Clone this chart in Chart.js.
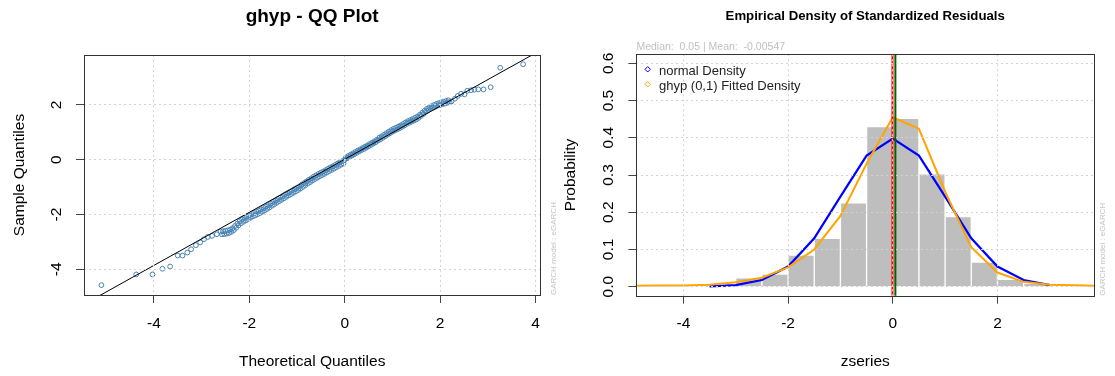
<!DOCTYPE html>
<html>
<head>
<meta charset="utf-8">
<title>ghyp QQ plot and empirical density</title>
<script src="https://cdn.jsdelivr.net/npm/chart.js@4.4.1/dist/chart.umd.min.js"></script>
<style>
  html, body { margin: 0; padding: 0; background: #fff; }
  #wrap { position: relative; width: 1115px; height: 376px; }
  #qq { position: absolute; left: 0; top: 0; }
  #dens { position: absolute; left: 557px; top: 0; }
</style>
</head>
<body>
<div id="wrap">
  <canvas id="qq" width="557" height="376"></canvas>
  <canvas id="dens" width="558" height="376"></canvas>
</div>
<script>
const FONT = "'Liberation Sans', Arial, sans-serif";

// ---- left panel: QQ plot ----
const qqTheo = [
  -5.10, -4.37, -4.03, -3.82, -3.66, -3.50, -3.40, -3.30, -3.22, -3.12, -3.03, -2.95, -2.87, -2.78, -2.68,
  -2.60, -2.55, -2.50, -2.45, -2.40, -2.35, -2.30, -2.25, -2.20, -2.15, -2.10, -2.05, -2.00,
  -1.95, -1.90, -1.85, -1.80, -1.75, -1.70, -1.65, -1.60, -1.55, -1.50, -1.45, -1.40, -1.35,
  -1.30, -1.25, -1.20, -1.15, -1.10, -1.05, -1.00, -0.95, -0.90, -0.85, -0.80, -0.75, -0.70,
  -0.65, -0.60, -0.55, -0.50, -0.45, -0.40, -0.35, -0.30, -0.25, -0.20, -0.15, -0.10, -0.05,
  0.00, 0.05, 0.10, 0.15, 0.20, 0.25, 0.30, 0.35, 0.40, 0.45, 0.50, 0.55, 0.60, 0.65, 0.70,
  0.75, 0.80, 0.85, 0.90, 0.95, 1.00, 1.05, 1.10, 1.15, 1.20, 1.25, 1.30, 1.35, 1.40, 1.45,
  1.50, 1.55, 1.60, 1.65, 1.70, 1.75, 1.80, 1.85, 1.90, 1.95, 2.00, 2.05, 2.10, 2.15, 2.20,
  2.24, 2.31, 2.37, 2.44, 2.51, 2.57, 2.65, 2.72, 2.80, 2.91, 3.06, 3.26, 3.74
];
const qqSample = [
  -4.58, -4.19, -4.19, -3.98, -3.90, -3.50, -3.50, -3.39, -3.27, -3.12, -3.02, -2.90, -2.82, -2.78, -2.72,
  -2.62, -2.61, -2.60, -2.58, -2.55, -2.50, -2.42, -2.33, -2.24, -2.18, -2.13, -2.08, -2.03,
  -1.98, -1.94, -1.90, -1.86, -1.81, -1.76, -1.71, -1.66, -1.60, -1.54, -1.49, -1.43, -1.38,
  -1.33, -1.27, -1.22, -1.17, -1.12, -1.07, -1.02, -0.97, -0.91, -0.85, -0.79, -0.73, -0.68,
  -0.62, -0.57, -0.52, -0.47, -0.43, -0.38, -0.33, -0.28, -0.24, -0.19, -0.14, -0.09, -0.05,
  0.00, 0.05, 0.10, 0.15, 0.20, 0.25, 0.30, 0.35, 0.39, 0.44, 0.49, 0.54, 0.59, 0.64, 0.70,
  0.75, 0.80, 0.86, 0.92, 0.97, 1.03, 1.07, 1.11, 1.15, 1.20, 1.25, 1.31, 1.35, 1.39, 1.43,
  1.47, 1.53, 1.60, 1.67, 1.75, 1.81, 1.86, 1.90, 1.94, 1.98, 2.00, 2.03, 2.05, 2.08, 2.10,
  2.13, 2.23, 2.33, 2.41, 2.39, 2.52, 2.54, 2.56, 2.57, 2.57, 2.65, 3.36, 3.49
];
const qqBandTheo = [
  -2.575, -2.525, -2.475, -2.425, -2.375, -2.325, -2.275, -2.225, -2.175, -2.125, -2.075, -2.025, -1.975,
  -1.925, -1.875, -1.825, -1.775, -1.725, -1.675, -1.625, -1.575, -1.525, -1.475, -1.425, -1.375, -1.325,
  -1.275, -1.225, -1.175, -1.125, -1.075, -1.025, -0.975, -0.925, -0.875, -0.825, -0.775, -0.725, -0.675,
  -0.625, -0.575, -0.525, -0.475, -0.425, -0.375, -0.325, -0.275, -0.225, -0.175, -0.125, -0.075, -0.025,
  0.025, 0.075, 0.125, 0.175, 0.225, 0.275, 0.325, 0.375, 0.425, 0.475, 0.525, 0.575, 0.625, 0.675,
  0.725, 0.775, 0.825, 0.875, 0.925, 0.975, 1.025, 1.075, 1.125, 1.175, 1.225, 1.275, 1.325, 1.375, 1.425, 1.475,
  1.525, 1.575, 1.625, 1.675, 1.725, 1.775, 1.825, 1.875, 1.925, 1.975, 2.025, 2.075, 2.125, 2.175
];
const qqBandSample = [
  -2.725, -2.715, -2.70, -2.675, -2.635, -2.57, -2.485, -2.395, -2.32, -2.265, -2.215, -2.165, -2.115,
  -2.07, -2.03, -1.99, -1.945, -1.895, -1.845, -1.795, -1.74, -1.68, -1.625, -1.57, -1.515, -1.465,
  -1.41, -1.355, -1.305, -1.255, -1.205, -1.155, -1.105, -1.05, -0.99, -0.93, -0.87, -0.815, -0.76,
  -0.705, -0.655, -0.605, -0.56, -0.515, -0.465, -0.415, -0.37, -0.325, -0.275, -0.225, -0.18, -0.135,
  0.085, 0.135, 0.185, 0.235, 0.285, 0.335, 0.385, 0.43, 0.475, 0.525, 0.575, 0.625, 0.675, 0.73,
  0.805, 0.855, 0.91, 0.97, 1.025, 1.08, 1.13, 1.17, 1.21, 1.255, 1.305, 1.36, 1.41, 1.45, 1.49, 1.53,
  1.58, 1.645, 1.715, 1.79, 1.86, 1.915, 1.96, 2.00, 2.04, 2.07, 2.095, 2.12, 2.145, 2.17
];
const qqLineX = [-5.6, 4.2];
const qqLineY = [-5.41, 4.09];
const qqXTicks = [-4, -2, 0, 2, 4];
const qqYTicks = [-4, -2, 0, 2];

// ---- right panel: empirical density ----
const histMids = [-2.75, -2.25, -1.75, -1.25, -0.75, -0.25, 0.25, 0.75, 1.25, 1.75, 2.25, 2.75];
const histDensity = [0.024, 0.034, 0.085, 0.130, 0.225, 0.430, 0.452, 0.303, 0.188, 0.066, 0.020, 0.009];
const normX = [-3.5, -3, -2.5, -2, -1.5, -1, -0.5, 0, 0.5, 1, 1.5, 2, 2.5, 3];
const normY = [0.001, 0.004, 0.018, 0.054, 0.130, 0.242, 0.352, 0.398, 0.352, 0.242, 0.130, 0.054, 0.018, 0.004];
const ghypX = [-5, -4.5, -4, -3.5, -3, -2.5, -2, -1.5, -1, -0.5, 0, 0.5, 1, 1.5, 2, 2.5, 3, 3.5, 4];
const ghypY = [0.002, 0.003, 0.003, 0.005, 0.012, 0.024, 0.052, 0.100, 0.190, 0.330, 0.455, 0.424, 0.255, 0.106, 0.038, 0.013, 0.005, 0.004, 0.002];
const meanVal = -0.00547;
const medianVal = 0.05;
const densXTicks = [-4, -2, 0, 2];
const densYTicks = [0, 0.1, 0.2, 0.3, 0.4, 0.5, 0.6];

const pts = (xs, ys) => xs.map((x, i) => ({ x: x, y: ys[i] }));

Chart.defaults.font.family = FONT;
Chart.defaults.color = '#000';

const gridOpts = {
  color: '#d3d3d3', lineWidth: 1, z: 1, offset: false,
  drawTicks: true, tickLength: 8, tickColor: '#444', tickWidth: 1
};
const axisFont = { family: FONT, size: 15.5 };

// R-like extras: box, rotated y tick labels, side note, inset legend
const rLook = {
  id: 'rLook',
  afterDraw(chart, args, opts) {
    const { ctx, chartArea: a } = chart;
    const ys = chart.scales.y;
    ctx.save();

    ctx.strokeStyle = '#333';
    ctx.lineWidth = 1;
    const L = Math.round(a.left) + 0.5, T = Math.round(a.top) + 0.5;
    ctx.strokeRect(L, T, Math.round(a.right) - L + 0.5, Math.round(a.bottom) - T + 0.5);

    ctx.fillStyle = '#000';
    ctx.font = `15.5px ${FONT}`;
    ctx.textAlign = 'center';
    ctx.textBaseline = 'middle';
    ys.ticks.forEach(t => {
      ctx.save();
      ctx.translate(a.left - opts.yLabelGap, ys.getPixelForValue(t.value));
      ctx.rotate(-Math.PI / 2);
      ctx.fillText(t.value.toFixed(opts.yDecimals), 0, 0);
      ctx.restore();
    });

    ctx.save();
    ctx.font = `8px ${FONT}`;
    ctx.fillStyle = '#c4c4c4';
    ctx.textAlign = 'left';
    ctx.translate(a.right + opts.sideGap, a.bottom);
    ctx.rotate(-Math.PI / 2);
    ctx.fillText('GARCH model : eGARCH', 0, 0);
    ctx.restore();

    if (opts.legend) {
      const items = chart.data.datasets.filter(d => d.legendMarker);
      ctx.font = `13px ${FONT}`;
      ctx.textAlign = 'left';
      items.forEach((d, i) => {
        const cy = a.top + 16.7 + i * 15;
        const cx = a.left + 11.3;
        const r = 2.7;
        ctx.strokeStyle = d.borderColor;
        ctx.lineWidth = 1;
        ctx.beginPath();
        ctx.moveTo(cx, cy - 1.7 - r);
        ctx.lineTo(cx + r, cy - 1.7);
        ctx.lineTo(cx, cy - 1.7 + r);
        ctx.lineTo(cx - r, cy - 1.7);
        ctx.closePath();
        ctx.stroke();
        ctx.fillStyle = '#222';
        ctx.fillText(d.label, a.left + 22.6, cy);
      });
    }
    ctx.restore();
  }
};

const qqPointStyle = {
  pointStyle: 'circle',
  pointRadius: 2.4,
  pointBorderWidth: 1,
  borderColor: '#4682B4',
  backgroundColor: 'rgba(0,0,0,0)'
};

new Chart(document.getElementById('qq'), {
  type: 'scatter',
  data: {
    datasets: [
      Object.assign({ label: 'sample band', data: pts(qqBandTheo, qqBandSample), order: 3 }, qqPointStyle),
      Object.assign({ label: 'sample', data: pts(qqTheo, qqSample), order: 2 }, qqPointStyle),
      {
        label: 'qqline',
        data: pts(qqLineX, qqLineY),
        showLine: true,
        borderColor: '#000',
        borderWidth: 1,
        pointRadius: 0,
        order: 1
      }
    ]
  },
  options: {
    responsive: false,
    animation: false,
    events: [],
    layout: { padding: { left: 0, right: 16.7, top: 0, bottom: 0 } },
    scales: {
      x: {
        type: 'linear', min: -5.465, max: 4.10,
        afterBuildTicks: s => { s.ticks = qqXTicks.map(v => ({ value: v })); },
        afterFit: s => { s.height = 81; },
        grid: gridOpts,
        border: { display: false, dash: [2, 3] },
        ticks: { font: axisFont, color: '#000', padding: 11.7, maxRotation: 0, autoSkip: false },
        title: { display: true, text: 'Theoretical Quantiles', font: axisFont, color: '#000', padding: { top: 0, bottom: 4.7 } }
      },
      y: {
        type: 'linear', min: -4.94, max: 3.826,
        afterBuildTicks: s => { s.ticks = qqYTicks.map(v => ({ value: v })); },
        afterFit: s => { s.width = 84; },
        grid: gridOpts,
        border: { display: false, dash: [2, 3] },
        ticks: { display: false },
        title: { display: true, text: 'Sample Quantiles', font: axisFont, color: '#000', padding: { top: 10, bottom: 0 } }
      }
    },
    plugins: {
      legend: { display: false },
      tooltip: { enabled: false },
      title: {
        display: true, text: 'ghyp - QQ Plot', fullSize: false, color: '#000',
        font: { family: FONT, size: 19, weight: 'bold', lineHeight: 1.2 },
        padding: { top: 5.5, bottom: 26.7 }
      },
      rLook: { yLabelGap: 27, yDecimals: 0, sideGap: 13.6, legend: false }
    }
  },
  plugins: [rLook]
});

new Chart(document.getElementById('dens'), {
  type: 'bar',
  data: {
    datasets: [
      {
        type: 'bar',
        label: 'histogram',
        data: pts(histMids, histDensity),
        backgroundColor: '#bebebe',
        borderColor: '#ffffff',
        borderWidth: 1,
        barPercentage: 1,
        categoryPercentage: 1,
        order: 10
      },
      {
        type: 'line',
        label: 'normal Density',
        legendMarker: true,
        data: pts(normX, normY),
        borderColor: '#0000ff',
        borderWidth: 2.2,
        pointRadius: 0,
        tension: 0,
        order: 4
      },
      {
        type: 'line',
        label: 'ghyp (0,1) Fitted Density',
        legendMarker: true,
        data: pts(ghypX, ghypY),
        borderColor: '#ffa500',
        borderWidth: 2,
        pointRadius: 0,
        tension: 0,
        order: 3
      },
      {
        type: 'line',
        label: 'mean',
        data: [{ x: meanVal, y: -0.1 }, { x: meanVal, y: 0.8 }],
        borderColor: '#ff0000',
        borderWidth: 2,
        pointRadius: 0,
        order: 2
      },
      {
        type: 'line',
        label: 'median',
        data: [{ x: medianVal, y: -0.1 }, { x: medianVal, y: 0.8 }],
        borderColor: '#006400',
        borderWidth: 2,
        pointRadius: 0,
        order: 1
      }
    ]
  },
  options: {
    responsive: false,
    animation: false,
    events: [],
    layout: { padding: { left: 0, right: 21, top: 0, bottom: 0 } },
    scales: {
      x: {
        type: 'linear', min: -4.897, max: 3.844, offset: false,
        afterBuildTicks: s => { s.ticks = densXTicks.map(v => ({ value: v })); },
        afterFit: s => { s.height = 80.3; },
        grid: gridOpts,
        border: { display: false, dash: [2, 3] },
        ticks: { font: axisFont, color: '#000', padding: 11, maxRotation: 0, autoSkip: false },
        title: { display: true, text: 'zseries', font: axisFont, color: '#000', padding: { top: 0, bottom: 4.7 } }
      },
      y: {
        type: 'linear', min: -0.0242, max: 0.6242, beginAtZero: false,
        afterBuildTicks: s => { s.ticks = densYTicks.map(v => ({ value: v })); },
        afterFit: s => { s.width = 79.4; },
        grid: gridOpts,
        border: { display: false, dash: [2, 3] },
        ticks: { display: false },
        title: { display: true, text: 'Probability', font: axisFont, color: '#000', padding: { top: 4.7, bottom: 0 } }
      }
    },
    plugins: {
      legend: { display: false },
      tooltip: { enabled: false },
      title: {
        display: true, text: 'Empirical Density of Standardized Residuals', fullSize: false, color: '#000',
        font: { family: FONT, size: 13.2, weight: 'bold', lineHeight: 1.2 },
        padding: { top: 8.6, bottom: 16.76 }
      },
      subtitle: {
        display: true, text: 'Median:  0.05 | Mean:  -0.00547', fullSize: false, align: 'start',
        color: '#c0c0c0', font: { family: FONT, size: 10.5, lineHeight: 1.2 },
        padding: { top: 0, bottom: 0.5 }
      },
      rLook: { yLabelGap: 27.8, yDecimals: 1, sideGap: 9, legend: true }
    }
  },
  plugins: [rLook]
});
</script>
</body>
</html>
